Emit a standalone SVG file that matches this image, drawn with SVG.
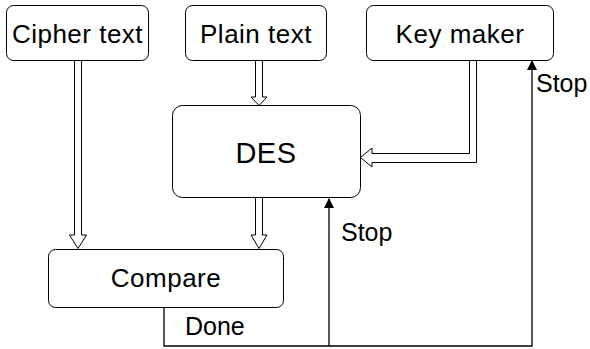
<svg xmlns="http://www.w3.org/2000/svg" width="590" height="349" viewBox="0 0 590 349">
<style>
.box{fill:#fff;stroke:#000;stroke-width:1}
.t{font-family:"Liberation Sans",Arial,sans-serif;font-size:26px;letter-spacing:0.5px;fill:#000;text-anchor:middle}
.l{font-family:"Liberation Sans",Arial,sans-serif;font-size:25px;fill:#000}
.hollow{fill:#fff;stroke:#000;stroke-width:1}
.line{fill:none;stroke:#000;stroke-width:1.3}
</style>
<defs>
<marker id="ah" markerWidth="10" markerHeight="10" refX="9" refY="5" orient="auto" markerUnits="userSpaceOnUse">
<path d="M0,0 L10,5 L0,10 z" fill="#000"/>
</marker>
</defs>
<rect width="590" height="349" fill="#fff"/>
<g id="connectors">
<polygon class="hollow" points="74.5,60.5 81.5,60.5 81.5,235 86.5,235 78,248.5 69.5,235 74.5,235"/>
<polygon class="hollow" points="255.5,60.5 262.5,60.5 262.5,97 267,97 259,105.5 251,97 255.5,97"/>
<polygon class="hollow" points="255.5,197.5 262.5,197.5 262.5,235 267,235 259,248.5 251,235 255.5,235"/>
<polygon class="hollow" points="469.5,60.5 476.5,60.5 476.5,162.5 372,162.5 372,167 360.5,157.5 372,148 372,153.5 469.5,153.5"/>
<path class="line" d="M164,307.5 V346 H532 V61" marker-end="url(#ah)"/>
<path class="line" d="M329,346 V199" marker-end="url(#ah)"/>
<text class="l" x="536" y="92">Stop</text>
<text class="l" x="341" y="241">Stop</text>
<text class="l" x="185" y="335">Done</text>
</g>
<g id="cipher"><rect class="box" x="6.5" y="5.5" width="142" height="55" rx="7"/><text class="t" x="77.5" y="43">Cipher text</text></g>
<g id="plain"><rect class="box" x="185.5" y="5.5" width="141" height="55" rx="7"/><text class="t" x="256" y="43">Plain text</text></g>
<g id="keymaker"><rect class="box" x="366.5" y="5.5" width="187" height="55" rx="7"/><text class="t" x="460" y="43">Key maker</text></g>
<g id="des"><rect class="box" x="172.5" y="105.5" width="188" height="92" rx="10"/><text class="t" x="266" y="163" style="font-size:29px">DES</text></g>
<g id="compare"><rect class="box" x="48.5" y="249.5" width="235" height="58" rx="7"/><text class="t" x="166" y="287">Compare</text></g>
</svg>
